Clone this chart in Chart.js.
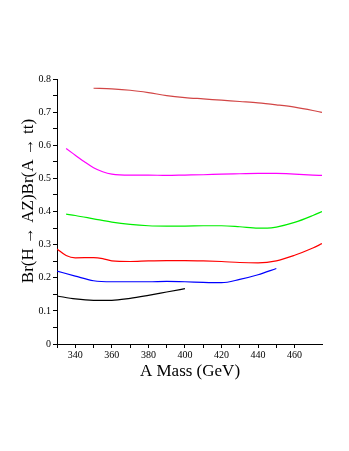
<!DOCTYPE html>
<html><head><meta charset="utf-8">
<script src="https://cdn.jsdelivr.net/npm/chart.js@4"></script>
<style>html,body{margin:0;padding:0;background:#fff}</style>
</head><body>
<canvas id="c" width="349" height="451"></canvas>
<script>
// Data
const massTopRed = [350,360,370,380,390,400,410,420,430,440,450,460,470,475];
const valTopRed  = [0.772,0.770,0.766,0.759,0.750,0.744,0.740,0.736,0.732,0.728,0.722,0.715,0.705,0.699];

const massMagenta = [335,340,345,350,355,360,370,380,390,400,410,420,430,440,450,460,470,475];
const valMagenta  = [0.590,0.570,0.550,0.532,0.520,0.513,0.510,0.510,0.509,0.510,0.511,0.513,0.514,0.515,0.515,0.513,0.510,0.509];

const massGreen = [335,340,350,360,370,380,390,400,410,420,430,440,445,450,460,470,475];
const valGreen  = [0.392,0.388,0.378,0.368,0.361,0.357,0.356,0.356,0.357,0.357,0.354,0.350,0.350,0.353,0.367,0.388,0.400];

const massRed = [330,335,340,350,355,360,370,380,390,400,410,420,430,440,450,460,470,475];
const valRed  = [0.287,0.267,0.260,0.261,0.258,0.251,0.249,0.251,0.252,0.252,0.251,0.249,0.246,0.245,0.251,0.268,0.290,0.303];

const massBlue = [330,340,350,360,370,380,390,400,410,420,430,440,450];
const valBlue  = [0.220,0.205,0.191,0.188,0.188,0.188,0.189,0.188,0.186,0.185,0.195,0.209,0.228];

const massBlack = [330,340,350,360,370,380,390,400];
const valBlack  = [0.145,0.136,0.132,0.132,0.138,0.147,0.157,0.167];

const xLabels = [340,360,380,400,420,440,460];
const yLabels = [0,0.1,0.2,0.3,0.4,0.5,0.6,0.7,0.8];
const xTitle = 'A Mass (GeV)';
const yTitle = 'Br(H \u2192 AZ)Br(A \u2192 tt)';

function pts(xs, ys){ return xs.map((x,i)=>({x:x,y:ys[i]})); }
function ds(xs, ys, color){
  return {data:pts(xs,ys), borderColor:color, borderWidth:1.2, pointRadius:0,
          fill:false, cubicInterpolationMode:'monotone'};
}

const serif = 'Liberation Serif, Times New Roman, serif';

const titlePlugin = {
  id:'titles',
  afterDraw(chart){
    const c = chart.ctx;
    c.save();
    c.fillStyle = '#000';
    c.font = '17px ' + serif;
    c.textAlign = 'center';
    c.textBaseline = 'middle';
    c.fillText(xTitle, 190, 372);
    c.translate(29, 201);
    c.rotate(-Math.PI/2);
    c.fillText(yTitle, 0, 0);
    c.restore();
  }
};

new Chart(document.getElementById('c'), {
  type:'line',
  data:{datasets:[
    ds(massTopRed, valTopRed, '#d24646'),
    ds(massMagenta, valMagenta, '#ff00ff'),
    ds(massGreen, valGreen, '#00ee00'),
    ds(massRed, valRed, '#ff0000'),
    ds(massBlue, valBlue, '#0000ff'),
    ds(massBlack, valBlack, '#000000')
  ]},
  options:{
    responsive:false, animation:false,
    layout:{padding:{left:0, right:27, top:79, bottom:67}},
    plugins:{legend:{display:false}, tooltip:{enabled:false}},
    scales:{
      x:{type:'linear', min:330, max:475,
        afterFit(s){ s.height = 40; },
        afterBuildTicks(s){ s.ticks = s.ticks.filter(t => Math.abs(t.value % 10) < 1e-6); },
        ticks:{stepSize:10, autoSkip:false, maxRotation:0, padding:1, color:'#000',
          font:{family:serif, size:10},
          callback(v){ return xLabels.includes(v) ? String(v) : ''; }},
        grid:{drawOnChartArea:false, drawTicks:true, tickLength:4, color:'#000'},
        border:{color:'#000', width:1}
      },
      y:{type:'linear', min:0, max:0.8,
        afterFit(s){ s.width = 57; },
        ticks:{stepSize:0.05, autoSkip:false, padding:2, color:'#000',
          font:{family:serif, size:10},
          callback(v){
            const r = Math.round(v*100)/100;
            const hit = yLabels.find(l => Math.abs(l - r) < 1e-6);
            if (hit === undefined) return '';
            return hit === 0 ? '0' : hit.toFixed(1);
          }},
        grid:{drawOnChartArea:false, drawTicks:true, tickLength:4, color:'#000'},
        border:{color:'#000', width:1}
      }
    }
  },
  plugins:[titlePlugin]
});
</script>
</body></html>
